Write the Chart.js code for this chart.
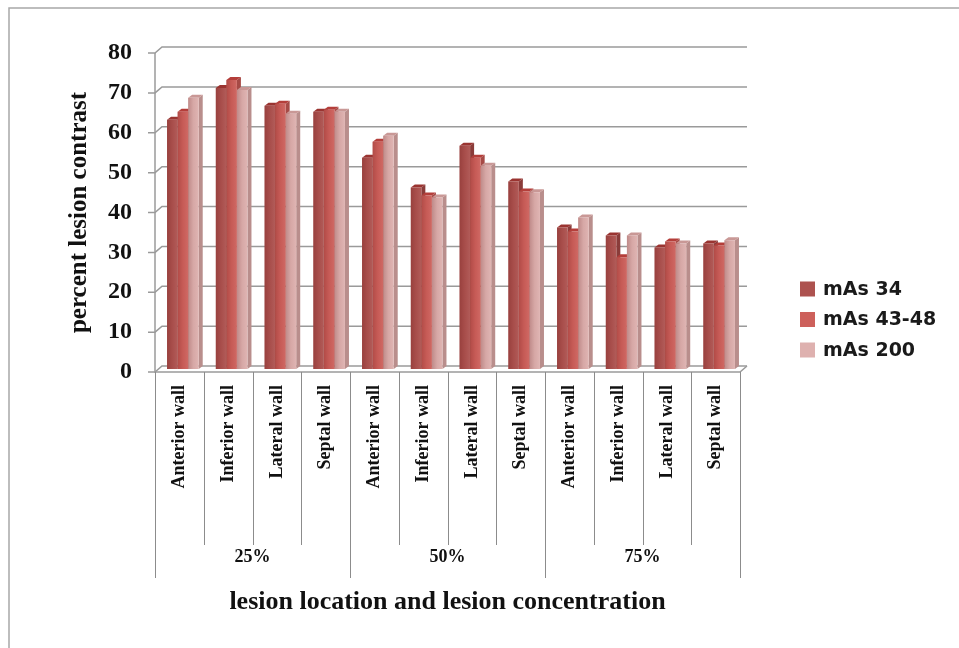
<!DOCTYPE html>
<html>
<head>
<meta charset="utf-8">
<title>percent lesion contrast</title>
<script src="https://cdn.jsdelivr.net/npm/chart.js@4.4.1/dist/chart.umd.min.js"></script>
<style>
  html, body { margin: 0; padding: 0; background: #fff; }
  canvas { display: block; }
</style>
</head>
<body>
<canvas id="contrastChart" width="959" height="648"></canvas>
<script>
// ----- data -----
const walls = ["Anterior wall", "Inferior wall", "Lateral wall", "Septal wall"];
const concentrations = ["25%", "50%", "75%"];
const categories = [].concat(walls, walls, walls);

const mAs34   = [62.5, 70.5, 66.0, 64.5, 53.0, 45.5, 56.0, 47.0, 35.5, 33.5, 30.5, 31.5];
const mAs4348 = [64.5, 72.5, 66.5, 65.0, 57.0, 43.5, 53.0, 44.5, 34.5, 28.0, 32.0, 31.0];
const mAs200  = [68.0, 70.0, 64.0, 64.5, 58.5, 43.0, 51.0, 44.3, 38.0, 33.5, 31.5, 32.3];

const yMin = 0, yMax = 80, yStep = 10;

// ----- look -----
const serif = "'Liberation Serif', 'Times New Roman', serif";
const seriesColors = ["#ad524f", "#cd605b", "#deb1af"];
const sideColors   = ["#8a3c3a", "#a64a46", "#b98e8c"];
const topColors    = ["#9a3431", "#b43e3a", "#c99896"];
const gridColor = "#9a9a9a";
const wallDepth = { x: 7, y: 6 };   // back wall offset
const barDepth  = { x: 4, y: 3 };   // column depth
const barShift  = { x: 3.5, y: -3 }; // columns sit mid floor

// white page + frame line
const framePlugin = {
  id: "frame",
  beforeDraw(chart) {
    const ctx = chart.ctx;
    ctx.save();
    ctx.fillStyle = "#fff";
    ctx.fillRect(0, 0, chart.width, chart.height);
    ctx.strokeStyle = "#a8a8a8";
    ctx.lineWidth = 1.5;
    ctx.beginPath();
    ctx.moveTo(9, chart.height);
    ctx.lineTo(9, 8);
    ctx.lineTo(chart.width, 8);
    ctx.stroke();
    ctx.restore();
  }
};

// back wall grid, floor and 3d column faces
const wallsPlugin = {
  id: "walls",
  beforeDatasetsDraw(chart) {
    const { ctx, chartArea: a } = chart;
    const y = chart.scales.y;
    ctx.save();
    ctx.strokeStyle = gridColor;
    ctx.lineWidth = 1.5;
    y.ticks.forEach(t => {
      const py = y.getPixelForValue(t.value);
      ctx.beginPath();
      ctx.moveTo(a.left - 7, py);
      ctx.lineTo(a.left, py);
      ctx.lineTo(a.left + wallDepth.x, py - wallDepth.y);
      ctx.lineTo(a.right + wallDepth.x, py - wallDepth.y);
      ctx.stroke();
    });
    // front axis
    ctx.beginPath();
    ctx.moveTo(a.left, y.getPixelForValue(yMax));
    ctx.lineTo(a.left, a.bottom);
    ctx.lineTo(a.right, a.bottom);
    ctx.lineTo(a.right + wallDepth.x, a.bottom - wallDepth.y);
    ctx.stroke();
    ctx.restore();

    // side and top faces, drawn before the fronts so the next column covers them
    ctx.save();
    ctx.translate(barShift.x, barShift.y);
    const n = categories.length;
    for (let i = 0; i < n; i++) {
      chart.data.datasets.forEach((ds, d) => {
        const bar = chart.getDatasetMeta(d).data[i];
        const p = bar.getProps(["x", "y", "width", "base"], true);
        const l = p.x - p.width / 2, r = p.x + p.width / 2;
        ctx.fillStyle = sideColors[d];
        ctx.beginPath();
        ctx.moveTo(r, p.y);
        ctx.lineTo(r + barDepth.x, p.y - barDepth.y);
        ctx.lineTo(r + barDepth.x, p.base - barDepth.y);
        ctx.lineTo(r, p.base);
        ctx.closePath();
        ctx.fill();
        ctx.fillStyle = topColors[d];
        ctx.beginPath();
        ctx.moveTo(l, p.y);
        ctx.lineTo(r, p.y);
        ctx.lineTo(r + barDepth.x, p.y - barDepth.y);
        ctx.lineTo(l + barDepth.x, p.y - barDepth.y);
        ctx.closePath();
        ctx.fill();
      });
    }
  },
  afterDatasetsDraw(chart) {
    const ctx = chart.ctx;
    // soft shading on the left of each front face
    chart.data.datasets.forEach((ds, d) => {
      chart.getDatasetMeta(d).data.forEach(bar => {
        const p = bar.getProps(["x", "y", "width", "base"], true);
        const l = p.x - p.width / 2;
        const g = ctx.createLinearGradient(l, 0, l + p.width, 0);
        g.addColorStop(0, "rgba(80,0,0,0.22)");
        g.addColorStop(0.5, "rgba(80,0,0,0.05)");
        g.addColorStop(1, "rgba(255,255,255,0.06)");
        ctx.fillStyle = g;
        ctx.fillRect(l, p.y, p.width, p.base - p.y);
      });
    });
    ctx.restore();
  }
};

// category boxes under the floor, concentration labels, legend
const boxesPlugin = {
  id: "boxes",
  afterDraw(chart) {
    const { ctx, chartArea: a } = chart;
    const x = chart.scales.x;
    const n = categories.length;
    const cw = (a.right - a.left) / n;
    ctx.save();
    ctx.strokeStyle = "#8c8c8c";
    ctx.lineWidth = 1;
    for (let i = 0; i <= n; i++) {
      const px = Math.round(x.getPixelForValue(Math.min(i, n - 1)) + (i < n ? -cw / 2 : cw / 2)) + 0.5;
      ctx.beginPath();
      ctx.moveTo(px, a.bottom);
      ctx.lineTo(px, a.bottom + (i % walls.length === 0 ? 206 : 173));
      ctx.stroke();
    }
    ctx.fillStyle = "#111";
    ctx.font = "bold 18px " + serif;
    ctx.textAlign = "center";
    ctx.textBaseline = "middle";
    concentrations.forEach((c, g) => {
      const first = x.getPixelForValue(g * walls.length);
      const last = x.getPixelForValue(g * walls.length + walls.length - 1);
      ctx.fillText(c, (first + last) / 2, a.bottom + 185);
    });

    // legend
    ctx.font = "bold 19px 'DejaVu Sans', sans-serif";
    ctx.textAlign = "left";
    chart.data.datasets.forEach((ds, d) => {
      const ly = a.top + 236 + d * 30.5;
      ctx.fillStyle = ds.backgroundColor;
      ctx.fillRect(a.right + 60, ly - 7.5, 15, 15);
      ctx.fillStyle = "#1a1a1a";
      ctx.fillText(ds.label, a.right + 83, ly + 1);
    });
    ctx.restore();
  }
};

const ctx = document.getElementById("contrastChart").getContext("2d");
const contrastChart = new Chart(ctx, {
  type: "bar",
  data: {
    labels: categories,
    datasets: [
      { label: "mAs 34",    data: mAs34,   backgroundColor: seriesColors[0] },
      { label: "mAs 43-48", data: mAs4348, backgroundColor: seriesColors[1] },
      { label: "mAs 200",   data: mAs200,  backgroundColor: seriesColors[2] }
    ]
  },
  options: {
    responsive: false,
    devicePixelRatio: 1,
    animation: false,
    events: [],
    layout: { padding: { left: 60, right: 219, top: 53, bottom: 20 } },
    datasets: {
      bar: { categoryPercentage: 0.65, barPercentage: 1.0, borderWidth: 0, clip: false }
    },
    plugins: {
      legend: { display: false },
      tooltip: { enabled: false }
    },
    scales: {
      x: {
        grid: { display: false, drawTicks: false },
        border: { display: false },
        ticks: {
          autoSkip: false,
          minRotation: 90,
          maxRotation: 90,
          padding: 13,
          color: "#111",
          font: { family: serif, size: 18, weight: "bold" }
        },
        title: {
          display: true,
          text: "lesion location and lesion concentration",
          color: "#111",
          font: { family: serif, size: 26, weight: "bold" },
          padding: { top: 0, bottom: 10 }
        },
        afterFit(scale) { scale.height = 256; }
      },
      y: {
        min: yMin,
        max: yMax,
        grid: { display: false, drawTicks: false },
        border: { display: false },
        ticks: {
          stepSize: yStep,
          padding: 23,
          color: "#111",
          font: { family: serif, size: 24, weight: "bold" }
        },
        title: {
          display: true,
          text: "percent lesion contrast",
          color: "#111",
          font: { family: serif, size: 25, weight: "bold" },
          padding: { top: 5, bottom: 0 }
        },
        afterFit(scale) { scale.width = 95; }
      }
    }
  },
  plugins: [framePlugin, wallsPlugin, boxesPlugin]
});
</script>
</body>
</html>
